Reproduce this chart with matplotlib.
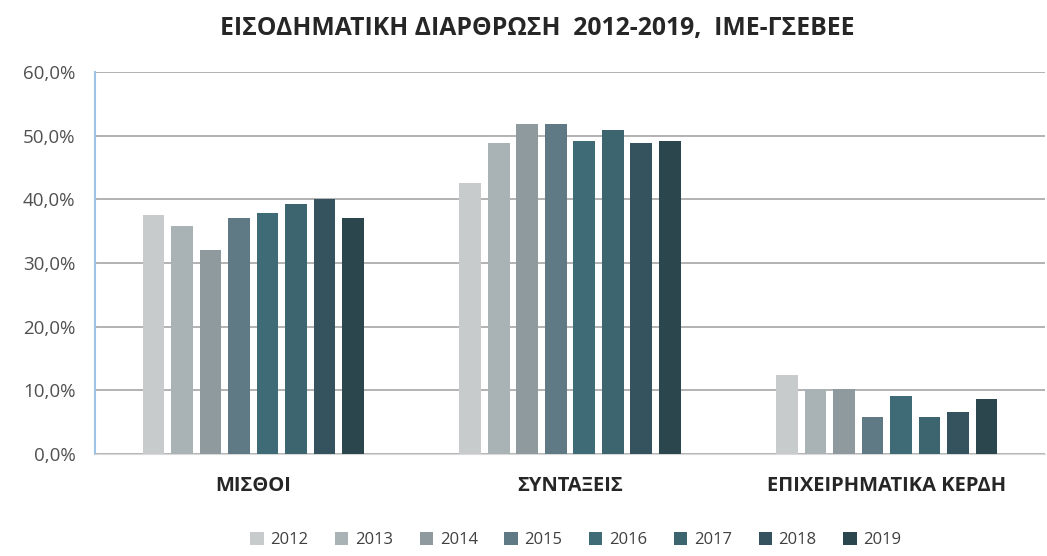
import numpy as np
import matplotlib
matplotlib.use('Agg')
import matplotlib.pyplot as plt
from matplotlib.ticker import FuncFormatter

# data (%)
categories = ['ΜΙΣΘΟΙ', 'ΣΥΝΤΑΞΕΙΣ', 'ΕΠΙΧΕΙΡΗΜΑΤΙΚΑ ΚΕΡΔΗ']
years = ['2012', '2013', '2014', '2015', '2016', '2017', '2018', '2019']
misthoi = [37.5, 35.8, 32.1, 37.1, 37.9, 39.2, 40.0, 37.1]
syntaxeis = [42.5, 48.8, 51.8, 51.8, 49.2, 50.9, 48.8, 49.2]
kerdi = [12.4, 10.2, 10.2, 5.8, 9.1, 5.8, 6.6, 8.6]
colors = ['#c8cbcc', '#a9b3b5', '#8e9a9e', '#5f7a84', '#3f6b77', '#3c6570', '#35535f', '#2c464e']

plt.rcParams['font.family'] = ['Open Sans', 'DejaVu Sans']

vals = np.array([misthoi, syntaxeis, kerdi])  # (3 cats, 8 years)

fig = plt.figure(figsize=(10.47, 5.56), dpi=100, facecolor='white')
ax = fig.add_axes([95/1047, 1-454/556, 950/1047, (454-72)/556])

x = np.arange(len(categories))
period, width = 0.09, 0.068
for i, yr in enumerate(years):
    ax.bar(x + (i-3.5)*period, vals[:, i], width=width, color=colors[i], label=yr, zorder=3)

ax.set_xlim(-0.5, 2.5)
ax.set_ylim(0, 60)
ax.set_yticks(np.arange(0, 61, 10))
ax.yaxis.set_major_formatter(FuncFormatter(lambda v, p: f'{v:.1f}%'.replace('.', ',')))
ax.grid(axis='y', color='#a6a6a6', lw=1.2, zorder=0)
ax.set_axisbelow(True)
for s in ['top', 'right']:
    ax.spines[s].set_visible(False)
ax.spines['bottom'].set_color('#d9d9d9')
ax.spines['left'].set_color('#9dc3e6')
ax.spines['left'].set_linewidth(1.5)
ax.tick_params(axis='y', length=0, pad=14, labelsize=13.5, labelcolor='#505050')
ax.tick_params(axis='x', length=0, pad=16, labelsize=14.5, labelcolor='#262626')
ax.set_xticks(x)
ax.set_xticklabels(categories, fontweight='bold')

fig.text(0.513, 1-28/556, 'ΕΙΣΟΔΗΜΑΤΙΚΗ ΔΙΑΡΘΡΩΣΗ  2012-2019,  ΙΜΕ-ΓΣΕΒΕΕ',
         ha='center', va='center', fontsize=17.8, fontweight='bold', color='#262626')

fig.legend(loc='center', bbox_to_anchor=(0.55, 1-540/556), ncol=8, frameon=False,
           handlelength=0.8, handleheight=0.8, handletextpad=0.4, columnspacing=1.6,
           prop={'size': 12}, labelcolor='#404040')

fig.savefig('out.png', dpi=100, facecolor='white')
